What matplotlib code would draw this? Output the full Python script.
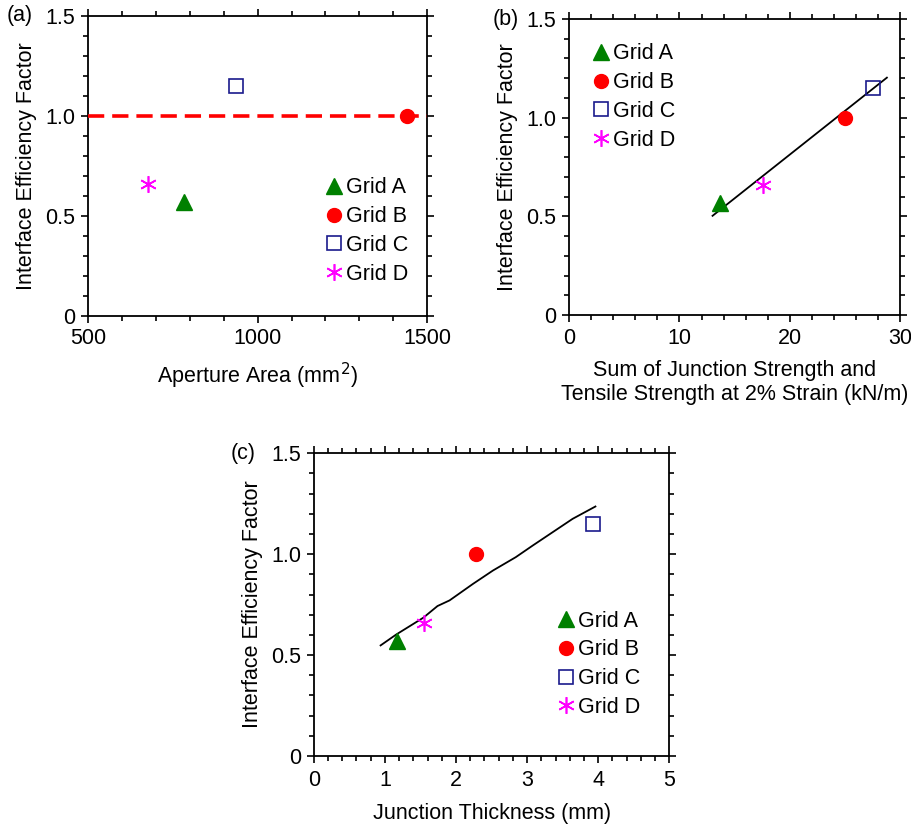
import matplotlib
matplotlib.use("Agg")
import matplotlib.pyplot as plt
from matplotlib.ticker import MultipleLocator

plt.rcParams["font.family"] = ["Liberation Sans", "DejaVu Sans"]
FS = 15.5

GRIDS = ["Grid A", "Grid B", "Grid C", "Grid D"]
FACTOR = [0.57, 1.00, 1.15, 0.66]

# x values for each panel
APERTURE = [783, 1440, 936, 677]
STRENGTH_SUM = [13.7, 25.0, 27.5, 17.6]
THICKNESS = [1.17, 2.28, 3.93, 1.55]

# fitted trend lines
FIT_B_X = [13.0, 28.8]
FIT_B_Y = [0.503, 1.203]
FIT_C_X = [0.94, 1.16, 1.54, 1.74, 1.91, 2.24, 2.52, 2.84, 3.08, 3.64, 3.96]
FIT_C_Y = [0.548, 0.602, 0.685, 0.743, 0.771, 0.853, 0.919, 0.985, 1.043, 1.175, 1.236]

STYLES = [
    dict(marker="^", color="#008000", mfc="#008000", mec="#008000", ms=11),
    dict(marker="o", color="#ff0000", mfc="#ff0000", mec="#ff0000", ms=10),
    dict(marker="s", color="#1a1a8c", mfc="none", mec="#1a1a8c", ms=10, mew=1.2),
    dict(marker=(6, 2, 0), color="#ff00ff", mfc="#ff00ff", mec="#ff00ff", ms=12, mew=1.2),
]


def style_axes(ax, xlim, xmajor, xminor):
    ax.set_xlim(*xlim)
    ax.set_ylim(0, 1.5)
    ax.xaxis.set_major_locator(MultipleLocator(xmajor))
    ax.xaxis.set_minor_locator(MultipleLocator(xminor))
    ax.yaxis.set_minor_locator(MultipleLocator(0.1))
    ax.set_yticks([0, 0.5, 1.0, 1.5])
    ax.set_yticklabels(["0", "0.5", "1.0", "1.5"])
    ax.tick_params(which="both", direction="out", top=True, right=True,
                   width=1.2, labelsize=FS, pad=4)
    ax.tick_params(which="major", length=5)
    ax.tick_params(which="minor", length=3.5)
    for sp in ax.spines.values():
        sp.set_linewidth(1.3)
    ax.set_ylabel("Interface Efficiency Factor", fontsize=FS, labelpad=6)


def draw_points(ax, xs):
    handles = []
    for x, y, name, st in zip(xs, FACTOR, GRIDS, STYLES):
        h, = ax.plot([x], [y], linestyle="none", label=name, zorder=5, **st)
        handles.append(h)
    return handles


def add_legend(ax, handles, anchor):
    ax.legend(handles=handles, loc="upper left", bbox_to_anchor=anchor,
              frameon=False, fontsize=FS, handlelength=0.8, handletextpad=0.15,
              labelspacing=0.36, borderpad=0, borderaxespad=0)


fig = plt.figure(figsize=(9.12, 8.27), dpi=100)

# (a) aperture area
ax_a = fig.add_axes([0.0965, 0.618, 0.372, 0.3628])
style_axes(ax_a, (500, 1500), 500, 100)
ax_a.axhline(1.0, color="#ff0000", linestyle=(0, (4.5, 2.2)), linewidth=2.6, zorder=3)
h = draw_points(ax_a, APERTURE)
add_legend(ax_a, h, (0.7, 0.462))
ax_a.set_xlabel("Aperture Area (mm$^{2}$)", fontsize=FS, labelpad=8)
ax_a.text(-0.24, 1.0, "(a)", transform=ax_a.transAxes, fontsize=FS,
          ha="left", va="center")

# (b) strength sum
ax_b = fig.add_axes([0.624, 0.619, 0.363, 0.358])
style_axes(ax_b, (0, 30), 10, 2)
ax_b.plot(FIT_B_X, FIT_B_Y, color="black", linewidth=1.3, zorder=4)
h = draw_points(ax_b, STRENGTH_SUM)
add_legend(ax_b, h, (0.07, 0.918))
ax_b.set_xlabel("Sum of Junction Strength and\nTensile Strength at 2% Strain (kN/m)",
                fontsize=FS, labelpad=8, linespacing=1.2)
ax_b.text(-0.23, 1.0, "(b)", transform=ax_b.transAxes, fontsize=FS,
          ha="left", va="center")

# (c) junction thickness
ax_c = fig.add_axes([0.344, 0.0858, 0.390, 0.3662])
style_axes(ax_c, (0, 5), 1, 0.2)
ax_c.plot(FIT_C_X, FIT_C_Y, color="black", linewidth=1.3, zorder=4)
h = draw_points(ax_c, THICKNESS)
add_legend(ax_c, h, (0.685, 0.48))
ax_c.tick_params(axis="x", pad=5)
ax_c.set_xlabel("Junction Thickness (mm)", fontsize=FS, labelpad=9)
ax_c.text(-0.235, 1.0, "(c)", transform=ax_c.transAxes, fontsize=FS,
          ha="left", va="center")

fig.savefig("out.png", dpi=100, facecolor="white")
